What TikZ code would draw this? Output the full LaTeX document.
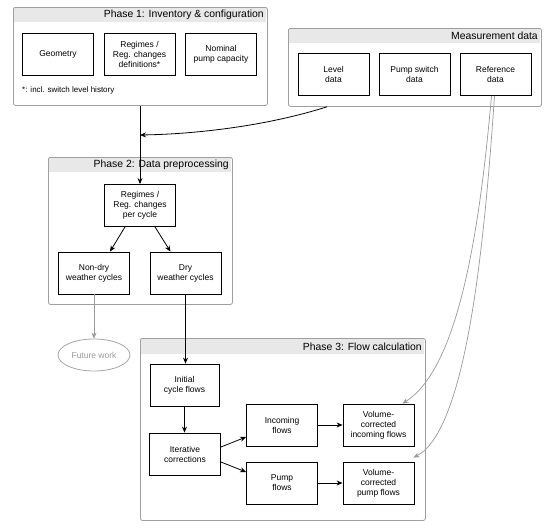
\documentclass[tikz,border=0pt]{standalone}
\usepackage{fontspec}
\setmainfont{Liberation Sans}
\usetikzlibrary{arrows.meta,shapes.geometric}
\begin{document}
\begin{tikzpicture}[x=1pt,y=-1pt,
  box/.style={draw=black, line width=0.8pt, fill=white, align=center, inner sep=1pt,
    font=\fontsize{8.5}{10}\selectfont, minimum width=71pt, minimum height=42pt},
  container/.style={draw=gray!75, line width=0.8pt, rounded corners=2pt},
  band/.style={fill=gray!18},
  ttl/.style={anchor=east, font=\fontsize{10.4}{12}\selectfont, inner sep=0pt},
  arr/.style={-{Stealth[length=6pt,width=5pt]}, line width=0.8pt, black},
  garr/.style={-{Stealth[length=6pt,width=5pt]}, line width=0.7pt, gray!80},
]
\useasboundingbox (0,0) rectangle (550,530);

% Phase 1
\fill[band] (14,8) rectangle (266,22);
\node[container, minimum width=254pt, minimum height=98pt, anchor=north west] (p1) at (13,7) {};
\node[ttl] (p1t) at (264,15) {Phase 1: Inventory \& configuration};
\node[box] (geo) at (58,54.5) {Geometry};
\node[box] (reg) at (139.5,54.5) {Regimes /\\Reg. changes\\definitions*};
\node[box] (nom) at (221,54.5) {Nominal\\pump capacity};
\node[anchor=west, inner sep=0pt, font=\fontsize{8}{9.5}\selectfont] (fn) at (22,90) {*: incl. switch level history};

% Measurement data
\fill[band] (289,29) rectangle (540,43);
\node[container, minimum width=253pt, minimum height=78pt, anchor=north west] (md) at (288,28) {};
\node[ttl] (mdt) at (538,36) {Measurement data};
\node[box] (lev) at (333.5,74.5) {Level\\data};
\node[box] (psw) at (414.5,74.5) {Pump switch\\data};
\node[box] (ref) at (495.5,74.5) {Reference\\data};

% Phase 2
\fill[band] (49,158) rectangle (231,172);
\node[container, minimum width=184pt, minimum height=147pt, anchor=north west] (p2) at (48,157) {};
\node[ttl] (p2t) at (229,165) {Phase 2: Data preprocessing};
\node[box] (rpc) at (140,205.5) {Regimes /\\Reg. changes\\per cycle};
\node[box] (ndry) at (94,273) {Non-dry\\weather cycles};
\node[box] (dry) at (185.5,273) {Dry\\weather cycles};

% Future work
\node[draw=gray!70, line width=0.8pt, ellipse, minimum width=72pt, minimum height=32pt,
  text=gray!80, font=\fontsize{8.5}{10}\selectfont, inner sep=0pt] (fw) at (94,355) {Future work};

% Phase 3
\fill[band] (141,339) rectangle (424,354);
\node[container, minimum width=285pt, minimum height=182pt, anchor=north west] (p3) at (140,338) {};
\node[ttl] (p3t) at (422,346.5) {Phase 3: Flow calculation};
\node[box, minimum width=69pt] (init) at (184.5,385) {Initial\\cycle flows};
\node[box] (iter) at (185,454) {Iterative\\corrections};
\node[box] (inc) at (282,425) {Incoming\\flows};
\node[box] (pmp) at (282,483) {Pump\\flows};
\node[box] (vci) at (378.5,425) {Volume-\\corrected\\incoming flows};
\node[box] (vcp) at (378.5,483) {Volume-\\corrected\\pump flows};

% connectors
\coordinate (j) at (140,135);
\draw[arr] (p1.south -| rpc.north) -- (rpc.north);
\draw[arr] ([xshift=39pt]md.south west) .. controls (270,125) and (200,134) .. (j);
\draw[arr] ([xshift=-15pt]rpc.south) -- ([xshift=16pt]ndry.north);
\draw[arr] ([xshift=15pt]rpc.south) -- ([xshift=-15pt]dry.north);
\draw[arr] (dry.south) -- (dry.south |- init.north);
\draw[garr] (ndry.south) -- (fw.north);
\draw[arr] (init.south) -- (init.south |- iter.north);
\draw[arr] ([yshift=7pt]iter.east) -- ([yshift=-12pt]inc.west);
\draw[arr] ([yshift=-8pt]iter.east) -- ([yshift=11pt]pmp.west);
\draw[arr] (inc.east) -- (vci.west);
\draw[arr] (pmp.east) -- (vcp.west);
\draw[garr] ([xshift=-4pt]ref.south) .. controls (478,250) and (455,370) .. ([xshift=24pt]vci.north);
\draw[garr] ([xshift=-1pt]ref.south) .. controls (484,250) and (466,430) .. ([xshift=35pt,yshift=4pt]vcp.north);
\end{tikzpicture}
\end{document}
